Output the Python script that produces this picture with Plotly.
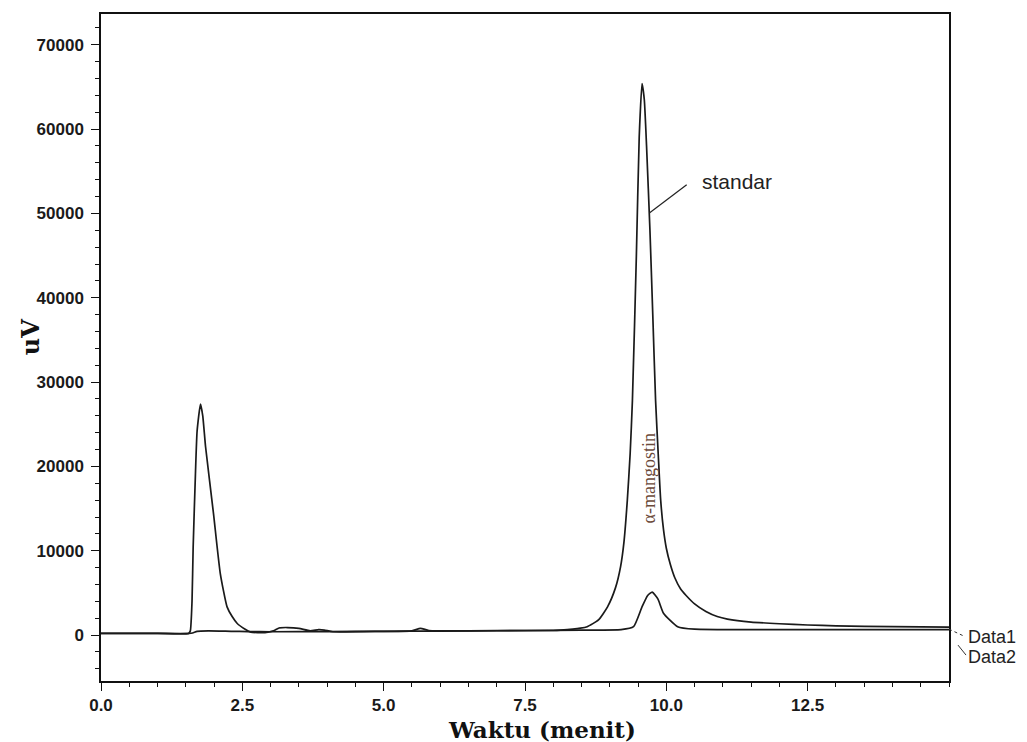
import plotly.graph_objects as go

# Data1: standard (alpha-mangostin), time (min) vs signal (uV)
t_data1 = [0.0, 1.0, 1.55, 1.62, 1.7, 1.9, 2.3, 2.6, 3.0, 4.0, 5.0, 6.0, 7.0, 8.0, 8.13, 8.48,
           8.6, 8.8, 8.96, 9.1, 9.19, 9.25, 9.31, 9.36, 9.40, 9.47, 9.52, 9.57, 9.61, 9.65, 9.71, 9.76,
           9.81, 9.86, 9.90, 9.95, 10.0, 10.07, 10.15, 10.25, 10.35, 10.5, 10.7, 10.9, 11.08, 11.5,
           12.0, 12.5, 13.0, 14.0, 15.0]
uv_data1 = [200, 200, 200, 250, 450, 500, 450, 420, 400, 420, 450, 480, 520, 550, 600, 830,
            1000, 1800, 3350, 5600, 8100, 11000, 16000, 21500, 27800, 45000, 59000, 65400, 63500, 58000, 48000, 38000,
            27800, 21000, 16000, 12500, 10300, 8400, 6800, 5500, 4700, 3700, 2800, 2200, 1900, 1550,
            1350, 1200, 1100, 1000, 950]

# Data2: sample
t_data2 = [0.0, 1.0, 1.55, 1.58, 1.61, 1.63, 1.67, 1.70, 1.76, 1.80, 1.85, 1.99, 2.11, 2.23,
           2.32, 2.41, 2.55, 2.65, 2.9, 3.05, 3.15, 3.3, 3.5, 3.7, 3.85, 3.95, 4.1, 5.0, 5.5,
           5.65, 5.8, 6.5, 7.5, 8.5, 9.2, 9.42, 9.57, 9.67, 9.75, 9.85, 9.95, 10.2, 10.5, 12.0, 15.0]
uv_data2 = [200, 200, 200, 500, 4000, 10400, 19000, 24200, 27400, 26000, 22300, 14400, 7300, 3350,
            2200, 1380, 700, 350, 300, 500, 850, 900, 800, 500, 650, 600, 400, 450, 500,
            800, 550, 500, 550, 600, 650, 1000, 3350, 4700, 5100, 4300, 2600, 1000, 700, 650, 650]

x_ticks = [0.0, 2.5, 5.0, 7.5, 10.0, 12.5]
x_tick_labels = ["0.0", "2.5", "5.0", "7.5", "10.0", "12.5"]
y_ticks = [0, 10000, 20000, 30000, 40000, 50000, 60000, 70000]
y_tick_labels = [str(v) for v in y_ticks]

fig = go.Figure()
line_style = dict(color="#1a1a1a", width=1.7, shape="spline", smoothing=0.5)
fig.add_trace(go.Scatter(x=t_data1, y=uv_data1, mode="lines", line=line_style, name="Data1"))
fig.add_trace(go.Scatter(x=t_data2, y=uv_data2, mode="lines", line=line_style, name="Data2"))

axis_common = dict(showline=True, linecolor="#111", linewidth=1.5, mirror=True,
                   showgrid=False, zeroline=False, ticks="outside", ticklen=8,
                   tickcolor="#111", tickwidth=1.3,
                   tickfont=dict(family="Liberation Sans, Arial", size=17, color="#1a1a1a", weight="bold"))

fig.update_xaxes(range=[0, 15], tickvals=x_ticks, ticktext=x_tick_labels,
                 minor=dict(dtick=0.5, ticks="outside", ticklen=4, tickcolor="#111", tickwidth=1.2),
                 **axis_common)
fig.update_yaxes(range=[-5440, 73640], tickvals=y_ticks, ticktext=y_tick_labels,
                 ticklabelstandoff=4,
                 minor=dict(dtick=2000, ticks="outside", ticklen=4, tickcolor="#111", tickwidth=1.2),
                 **axis_common)

fig.add_shape(type="line", x0=9.70, y0=50040, x1=10.36, y1=53400,
              line=dict(color="#222", width=1.2))
fig.add_annotation(x=10.6, y=53800, text="standar", showarrow=False, xanchor="left",
                   font=dict(family="Liberation Sans, Arial", size=21, color="#222"))
fig.add_annotation(x=9.69, y=18560, text="α-mangostin", showarrow=False, textangle=-90,
                   xanchor="center", yanchor="middle",
                   font=dict(family="Liberation Serif, Times New Roman", size=18, color="#6b4a3a"))

# axis titles
fig.add_annotation(xref="paper", yref="paper", x=0.52, y=-0.072, text="Waktu (menit)",
                   showarrow=False, xanchor="center", yanchor="middle",
                   font=dict(family="DejaVu Serif", size=23, color="#111", weight="bold"))
fig.add_annotation(xref="paper", yref="paper", x=-0.0833, y=0.516, text="uV", textangle=-90,
                   showarrow=False, xanchor="center", yanchor="middle",
                   font=dict(family="DejaVu Serif", size=24, color="#111", weight="bold"))

# Data labels at right border
fig.add_annotation(xref="paper", yref="paper", x=(966 - 101) / 848, y=(681 - 637) / 669,
                   text="Data1", showarrow=False, xanchor="left", yanchor="middle",
                   font=dict(family="Liberation Sans, Arial", size=18, color="#222"))
fig.add_annotation(xref="paper", yref="paper", x=(966 - 101) / 848, y=(681 - 657) / 669,
                   text="Data2", showarrow=False, xanchor="left", yanchor="middle",
                   font=dict(family="Liberation Sans, Arial", size=18, color="#222"))
fig.add_shape(type="line", xref="paper", yref="paper",
              x0=(949 - 101) / 848, y0=(681 - 629) / 669,
              x1=(964 - 101) / 848, y1=(681 - 636) / 669,
              line=dict(color="#333", width=1, dash="dot"))
fig.add_shape(type="line", xref="paper", yref="paper",
              x0=(958 - 101) / 848, y0=(681 - 645) / 669,
              x1=(966 - 101) / 848, y1=(681 - 655) / 669,
              line=dict(color="#333", width=1))

# page body has an 8px margin, so the figure is sized/offset to compensate
fig.update_layout(width=1019, height=734, paper_bgcolor="white", plot_bgcolor="white",
                  showlegend=False,
                  margin=dict(l=93, r=78, t=4, b=61))

fig.write_html("out.html")
